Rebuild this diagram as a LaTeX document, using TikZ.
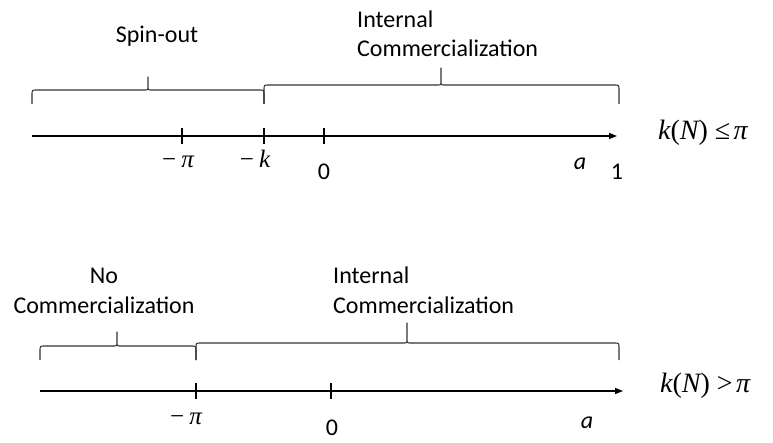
\documentclass[tikz,border=0pt]{standalone}
\usepackage{fontspec}
\setmainfont{Carlito}
\newfontfamily\tms{Liberation Serif}
\usetikzlibrary{arrows.meta}
\tikzset{
  axisline/.style={line width=1.4pt, -{Triangle[length=8pt,width=6pt]}},
  tickmark/.style={line width=1.2pt},
  bracepath/.style={line width=1.1pt, draw=black!80, line join=round},
  lbl/.style={font=\fontsize{24}{29}\selectfont, inner sep=0pt},
  mth/.style={font=\fontsize{25}{30}\selectfont\tms, inner sep=0pt},
  bigmth/.style={font=\fontsize{28}{32}\selectfont\tms, inner sep=0pt},
}
\newcommand\drawmybrace[6]{%
  \draw[bracepath] (#1,#5) -- (#1,#4+5) .. controls (#1,#4) .. (#1+5,#4)
    -- (#3-4,#4) .. controls (#3,#4) .. (#3,#4-4) -- (#3,#6)
    -- (#3,#4-4) .. controls (#3,#4) .. (#3+4,#4)
    -- (#2-5,#4) .. controls (#2,#4) .. (#2,#4+5) -- (#2,#5);}
\begin{document}
\begin{tikzpicture}[x=1pt,y=-1pt]
\useasboundingbox (0,0) rectangle (773,443);
% ---------- top diagram ----------
\coordinate (a1s) at (32,136);
\coordinate (a1e) at (617,136);
\draw[axisline] (a1s) -- (a1e);
\coordinate (t1p) at (182,136);
\coordinate (t1k) at (264,136);
\coordinate (t1z) at (324,136);
\foreach \t in {t1p,t1k,t1z} \draw[tickmark] (\t) ++(0,-8) -- ++(0,16);
\drawmybrace{32}{264}{148}{90}{104}{77}
\drawmybrace{264}{619}{441}{85}{104}{68}
\node[lbl, anchor=base] (spin) at (157,43) {Spin-out};
\node[lbl, anchor=base west, align=left] (int1) at (357,57) {Internal\\Commercialization};
\node[mth, anchor=base] (mp1) at (178,168) {−\hspace{0.2em}\itshape π};
\node[mth, anchor=base] (mk1) at (255,168) {−\hspace{0.2em}\itshape k};
\node[lbl, anchor=base] (z1) at (324,180) {0};
\node[lbl, anchor=base] (aa1) at (580,170) {\itshape a};
\node[lbl, anchor=base] (one1) at (617,180) {1};
\node[bigmth, anchor=base west] (cond1) at (658,140) {\itshape k\upshape(\itshape N\upshape)\hspace{0.25em}≤\hspace{0.12em}\itshape π};
% ---------- bottom diagram ----------
\coordinate (a2s) at (40,391);
\coordinate (a2e) at (623,391);
\draw[axisline] (a2s) -- (a2e);
\coordinate (t2p) at (196,391);
\coordinate (t2z) at (331,391);
\foreach \t in {t2p,t2z} \draw[tickmark] (\t) ++(0,-8) -- ++(0,16);
\drawmybrace{40}{196}{117}{346}{360}{332}
\drawmybrace{196}{619}{407}{343}{360}{323}
\node[lbl, anchor=base, align=center] (nocom) at (104,313) {No\\Commercialization};
\node[lbl, anchor=base west, align=left] (int2) at (333,313) {Internal\\Commercialization};
\node[mth, anchor=base] (mp2) at (186,424) {−\hspace{0.2em}\itshape π};
\node[lbl, anchor=base] (z2) at (332,435) {0};
\node[lbl, anchor=base] (aa2) at (587,428) {\itshape a};
\node[bigmth, anchor=base west] (cond2) at (660,392) {\itshape k\upshape(\itshape N\upshape)\hspace{0.25em}>\hspace{0.12em}\itshape π};
\end{tikzpicture}
\end{document}
